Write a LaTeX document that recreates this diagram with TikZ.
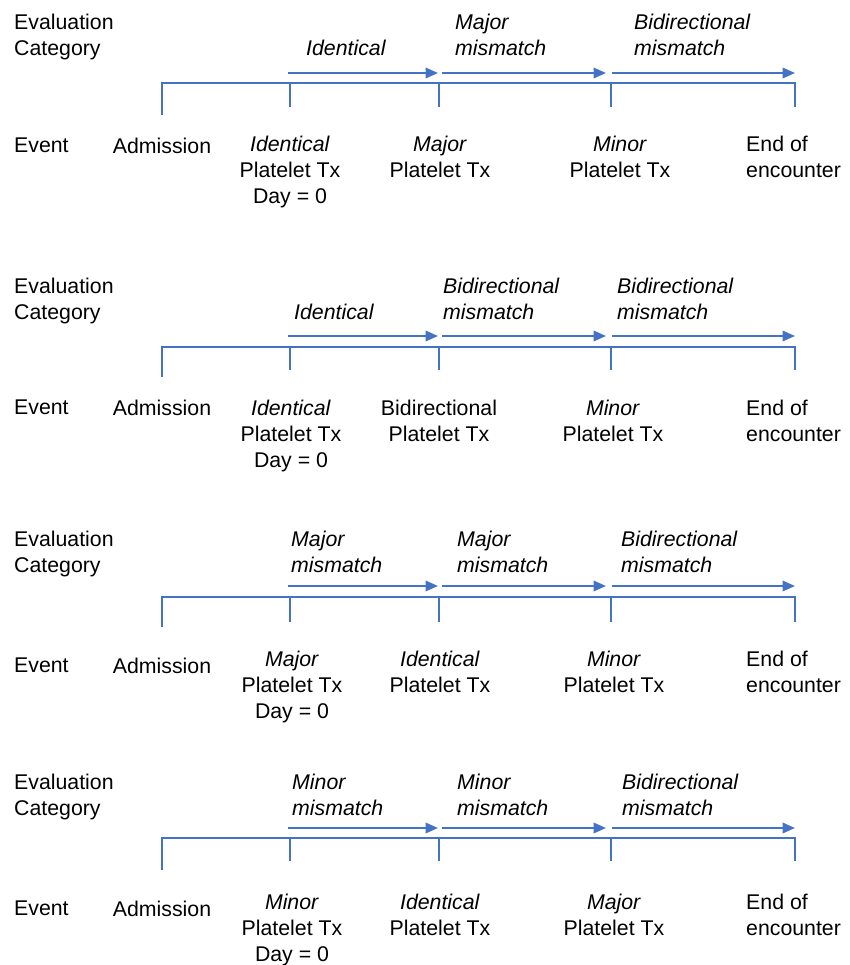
\documentclass[tikz,border=0pt]{standalone}
\usepackage{fontspec}
\setmainfont{Liberation Sans}
\usepackage{xcolor}
\usetikzlibrary{arrows.meta}
\definecolor{tlblue}{HTML}{4472C4}

\begin{document}
\begin{tikzpicture}[x=1pt, y=-1pt,
    font=\fontsize{21.3}{26}\selectfont,
    lbl/.style={inner sep=0pt, anchor=north},
    cattext/.style={lbl, anchor=north west, align=left, font=\fontsize{21.3}{26}\selectfont\itshape},
    evtext/.style={lbl, align=center},
    bracketline/.style={draw=tlblue, line width=2.3pt},
    catarrow/.style={draw=tlblue, line width=2pt, -{Triangle[length=12.5pt,width=10.5pt]}}]

    \useasboundingbox (0,0) rectangle (849,965);

    % Frame of each timeline: bracket, arrows and fixed labels
    % panel / bracket y / arrow y / eval y / event y / label y / left leg / tick end
    \foreach \p/\yb/\ya/\ye/\yv/\yl/\yleg/\ytk in {1/83/73/21/145/143/115/107,
        2/347/336/285/407/407/377/370, 3/597/586/538/665/658/627/622,
        4/838/828/781/908/901/870/861}{
        % tick positions
        \foreach \i/\x in {0/162,1/290,2/439,3/611,4/795}{
            \coordinate (p\p t\i) at (\x,\yb);
            \coordinate (p\p b\i) at (\x,\ytk);
        }
        \coordinate (p\p leg) at (162,\yleg);
        \draw[bracketline] (p\p leg) -- (p\p t0) -- (p\p t4) -- (p\p b4);
        \foreach \i in {1,2,3} \draw[bracketline] (p\p t\i) -- (p\p b\i);

        % category arrows
        \foreach \i/\x in {0/288,1/438,2/442,3/606,4/612,5/795}
            \coordinate (p\p a\i) at (\x,\ya);
        \draw[catarrow] (p\p a0) -- (p\p a1);
        \draw[catarrow] (p\p a2) -- (p\p a3);
        \draw[catarrow] (p\p a4) -- (p\p a5);

        % row titles, admission and end
        \node[lbl, anchor=north west, align=left] (p\p eval) at (14,\ye-7.5) {Evaluation\\Category};
        \node[lbl, anchor=north west] (p\p event) at (14,\yv-7.5) {Event};
        \node[lbl] (p\p adm) at (162,\yv-7.5) {Admission};
        \node[lbl, anchor=north west, align=left] (p\p end) at (746,\yl-7.5) {End of\\encounter};
    }

    % Panel 1
    \node[cattext] (p1c1) at (306,39.5) {Identical};
    \node[cattext] (p1c2) at (455,13.5) {Major\\mismatch};
    \node[cattext] (p1c3) at (634,13.5) {Bidirectional\\mismatch};
    \node[evtext] (p1e1) at (290,135.5) {\textit{Identical}\\Platelet Tx\\Day = 0};
    \node[evtext] (p1e2) at (440,135.5) {\textit{Major}\\Platelet Tx};
    \node[evtext] (p1e3) at (620,135.5) {\textit{Minor}\\Platelet Tx};

    % Panel 2
    \node[cattext] (p2c1) at (294,303.5) {Identical};
    \node[cattext] (p2c2) at (443,277.5) {Bidirectional\\mismatch};
    \node[cattext] (p2c3) at (617,277.5) {Bidirectional\\mismatch};
    \node[evtext] (p2e1) at (291,399.5) {\textit{Identical}\\Platelet Tx\\Day = 0};
    \node[evtext] (p2e2) at (439,399.5) {Bidirectional\\Platelet Tx};
    \node[evtext] (p2e3) at (613,399.5) {\textit{Minor}\\Platelet Tx};

    % Panel 3
    \node[cattext] (p3c1) at (291,530.5) {Major\\mismatch};
    \node[cattext] (p3c2) at (457,530.5) {Major\\mismatch};
    \node[cattext] (p3c3) at (621,530.5) {Bidirectional\\mismatch};
    \node[evtext] (p3e1) at (292,650.5) {\textit{Major}\\Platelet Tx\\Day = 0};
    \node[evtext] (p3e2) at (440,650.5) {\textit{Identical}\\Platelet Tx};
    \node[evtext] (p3e3) at (614,650.5) {\textit{Minor}\\Platelet Tx};

    % Panel 4
    \node[cattext] (p4c1) at (292,773.5) {Minor\\mismatch};
    \node[cattext] (p4c2) at (457,773.5) {Minor\\mismatch};
    \node[cattext] (p4c3) at (622,773.5) {Bidirectional\\mismatch};
    \node[evtext] (p4e1) at (292,893.5) {\textit{Minor}\\Platelet Tx\\Day = 0};
    \node[evtext] (p4e2) at (440,893.5) {\textit{Identical}\\Platelet Tx};
    \node[evtext] (p4e3) at (614,893.5) {\textit{Major}\\Platelet Tx};

\end{tikzpicture}
\end{document}
